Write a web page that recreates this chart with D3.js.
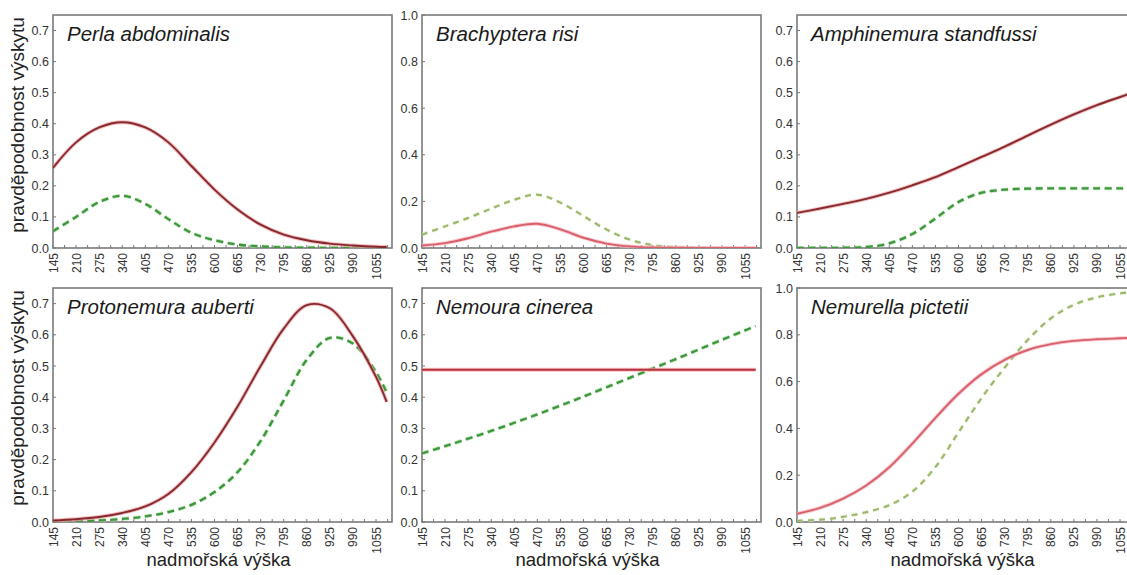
<!DOCTYPE html>
<html>
<head>
<meta charset="utf-8">
<script src="https://cdn.jsdelivr.net/npm/d3@7/dist/d3.min.js"></script>
<style>
  html, body { margin: 0; padding: 0; background: #fff; overflow: hidden; }
  svg { display: block; font-family: "Liberation Sans", Arial, sans-serif; }
</style>
</head>
<body>
<svg id="chart" width="1127" height="575"></svg>
<script>
// Elevation (m a.s.l.) at which the response curves are sampled
const elevations = [145, 210, 275, 340, 405, 470, 535, 600, 665, 730, 795, 860, 925, 990, 1055, 1085];
const xTickLabels = [145, 210, 275, 340, 405, 470, 535, 600, 665, 730, 795, 860, 925, 990, 1055];

const species = ["Perla abdominalis", "Brachyptera risi", "Amphinemura standfussi",
                 "Protonemura auberti", "Nemoura cinerea", "Nemurella pictetii"];

// Upper limit of the probability axis per panel
const yMax = [0.75, 1.0, 0.75, 0.75, 0.75, 1.0];
const yTicksShort = [0, 0.1, 0.2, 0.3, 0.4, 0.5, 0.6, 0.7];
const yTicksLong = [0, 0.2, 0.4, 0.6, 0.8, 1.0];

// Probability of occurrence, solid-line model
const solidPerla       = [0.258, 0.34, 0.388, 0.405, 0.388, 0.34, 0.264, 0.188, 0.124, 0.075, 0.043, 0.025, 0.014, 0.008, 0.004, 0.003];
const solidBrachyptera = [0.011, 0.021, 0.042, 0.07, 0.093, 0.104, 0.08, 0.044, 0.019, 0.007, 0.002, 0.001, 0, 0, 0, 0];
const solidAmphinemura = [0.113, 0.127, 0.142, 0.158, 0.178, 0.202, 0.228, 0.26, 0.293, 0.326, 0.362, 0.397, 0.43, 0.46, 0.486, 0.498];
const solidProtonemura = [0.005, 0.009, 0.016, 0.029, 0.05, 0.09, 0.16, 0.255, 0.37, 0.5, 0.62, 0.695, 0.685, 0.595, 0.465, 0.385];
const solidNemoura     = [0.488, 0.488, 0.488, 0.488, 0.488, 0.488, 0.488, 0.488, 0.488, 0.488, 0.488, 0.488, 0.488, 0.488, 0.488, 0.488];
const solidNemurella   = [0.035, 0.06, 0.1, 0.156, 0.234, 0.335, 0.445, 0.548, 0.632, 0.693, 0.735, 0.76, 0.774, 0.781, 0.785, 0.787];

// Probability of occurrence, dashed-line model
const dashedPerla       = [0.054, 0.10, 0.148, 0.168, 0.142, 0.093, 0.049, 0.025, 0.011, 0.005, 0.002, 0.001, 0.0005, 0, 0, 0];
const dashedBrachyptera = [0.057, 0.093, 0.129, 0.169, 0.207, 0.229, 0.195, 0.137, 0.079, 0.036, 0.012, 0.003, 0.001, 0, 0, 0];
const dashedAmphinemura = [0, 0, 0.001, 0.003, 0.015, 0.045, 0.095, 0.148, 0.178, 0.188, 0.191, 0.192, 0.192, 0.192, 0.192, 0.192];
const dashedProtonemura = [0, 0.002, 0.005, 0.01, 0.018, 0.032, 0.055, 0.096, 0.16, 0.26, 0.39, 0.52, 0.59, 0.572, 0.48, 0.415];
const dashedNemoura     = [0.22, 0.243, 0.267, 0.292, 0.318, 0.345, 0.373, 0.402, 0.432, 0.462, 0.492, 0.522, 0.553, 0.584, 0.614, 0.628];
const dashedNemurella   = [0.005, 0.01, 0.022, 0.042, 0.072, 0.13, 0.235, 0.383, 0.53, 0.66, 0.778, 0.87, 0.928, 0.96, 0.977, 0.982];

const solidSeries = [solidPerla, solidBrachyptera, solidAmphinemura, solidProtonemura, solidNemoura, solidNemurella];
const dashedSeries = [dashedPerla, dashedBrachyptera, dashedAmphinemura, dashedProtonemura, dashedNemoura, dashedNemurella];

// ---- layout & styling ----
const colLeft = [53, 422, 797];
const rowTop = [15, 288];
const rowHeight = [233, 234];
const panelWidth = 339;

const darkStyle = {
  solid: { core: "#842a2e", halo: "#f2a0a4", w: 1.9 },
  dashed: { core: "#3f963f", halo: "#a8e0a0", w: 2.3, dash: "7,4.5" }
};
const redStyle = {
  solid: { core: "#b8323c", halo: "#f4a4aa", w: 2.0 },
  dashed: { core: "#3f963f", halo: "#a8e0a0", w: 2.3, dash: "7,4.5" }
};
const lightStyle = {
  solid: { core: "#d8606c", halo: "#f6b4ba", w: 1.9 },
  dashed: { core: "#9cb46c", halo: "#d8ecb8", w: 2.0, dash: "6,5" }
};
const panelStyle = [darkStyle, lightStyle, darkStyle, darkStyle, redStyle, lightStyle];

const svg = d3.select("#chart");
const fmt = d3.format(".1f");

species.forEach((name, i) => {
  const col = i % 3, row = Math.floor(i / 3);
  const left = colLeft[col], top = rowTop[row], h = rowHeight[row];
  const x = d3.scaleLinear().domain([145, 1100]).range([left, left + panelWidth]);
  const y = d3.scaleLinear().domain([0, yMax[i]]).range([top + h, top]);
  const g = svg.append("g");
  const st = panelStyle[i];

  // frame
  g.append("rect")
    .attr("x", left).attr("y", top)
    .attr("width", panelWidth).attr("height", h)
    .attr("fill", "none").attr("stroke", "#7a7a7a").attr("stroke-width", 1.6);

  // x axis: labels rotated, small inner ticks incl. midpoints
  const minor = xTickLabels.map(v => v + 32.5).filter(v => v < 1100);
  g.selectAll(".xt").data(xTickLabels.concat(minor)).join("line")
    .attr("x1", d => x(d)).attr("x2", d => x(d))
    .attr("y1", top + h).attr("y2", top + h - 3)
    .attr("stroke", "#777").attr("stroke-width", 1);
  g.selectAll(".xl").data(xTickLabels).join("text")
    .attr("transform", d => `translate(${x(d) + 4.5},${top + h + 5}) rotate(-90)`)
    .attr("text-anchor", "end")
    .attr("font-size", 12)
    .attr("fill", "#333")
    .text(d => d);

  // y axis
  const yt = yMax[i] === 1.0 ? yTicksLong : yTicksShort;
  g.selectAll(".yt").data(yt).join("line")
    .attr("x1", left).attr("x2", left + 3)
    .attr("y1", d => y(d)).attr("y2", d => y(d))
    .attr("stroke", "#777").attr("stroke-width", 1);
  g.selectAll(".yl").data(yt).join("text")
    .attr("x", left - 4).attr("y", d => y(d) + 4.5)
    .attr("text-anchor", "end")
    .attr("font-size", 12.5)
    .attr("fill", "#333")
    .text(d => fmt(d));

  // curves
  const line = d3.line()
    .x((d, k) => x(elevations[k]))
    .y(d => y(d))
    .curve(d3.curveCatmullRom.alpha(0.5));

  const clipId = "clip" + i;
  svg.append("clipPath").attr("id", clipId)
    .append("rect").attr("x", left).attr("y", top - 2).attr("width", panelWidth).attr("height", h + 2);
  const lines = g.append("g").attr("clip-path", `url(#${clipId})`);

  // dashed model
  lines.append("path").datum(dashedSeries[i])
    .attr("d", line).attr("fill", "none")
    .attr("stroke", st.dashed.halo).attr("stroke-width", st.dashed.w + 1.6)
    .attr("stroke-dasharray", st.dashed.dash).attr("opacity", 0.7);
  lines.append("path").datum(dashedSeries[i])
    .attr("d", line).attr("fill", "none")
    .attr("stroke", st.dashed.core).attr("stroke-width", st.dashed.w)
    .attr("stroke-dasharray", st.dashed.dash);

  // solid model
  lines.append("path").datum(solidSeries[i])
    .attr("d", line).attr("fill", "none")
    .attr("stroke", st.solid.halo).attr("stroke-width", st.solid.w + 2)
    .attr("opacity", 0.7);
  lines.append("path").datum(solidSeries[i])
    .attr("d", line).attr("fill", "none")
    .attr("stroke", st.solid.core).attr("stroke-width", st.solid.w);

  // species name
  g.append("text")
    .attr("x", left + 14).attr("y", top + 26)
    .attr("font-size", 20.5)
    .attr("font-style", "italic")
    .attr("fill", "#1a1a1a")
    .text(name);

  // axis titles
  if (col === 0) {
    g.append("text")
      .attr("transform", `translate(${24},${top + 110}) rotate(-90)`)
      .attr("text-anchor", "middle")
      .attr("font-size", 19)
      .attr("fill", "#222")
      .text("pravděpodobnost výskytu");
  }
  if (row === 1) {
    g.append("text")
      .attr("x", left + panelWidth / 2 - 4).attr("y", 566)
      .attr("text-anchor", "middle")
      .attr("font-size", 18.5)
      .attr("fill", "#222")
      .text("nadmořská výška");
  }
});
</script>
</body>
</html>
